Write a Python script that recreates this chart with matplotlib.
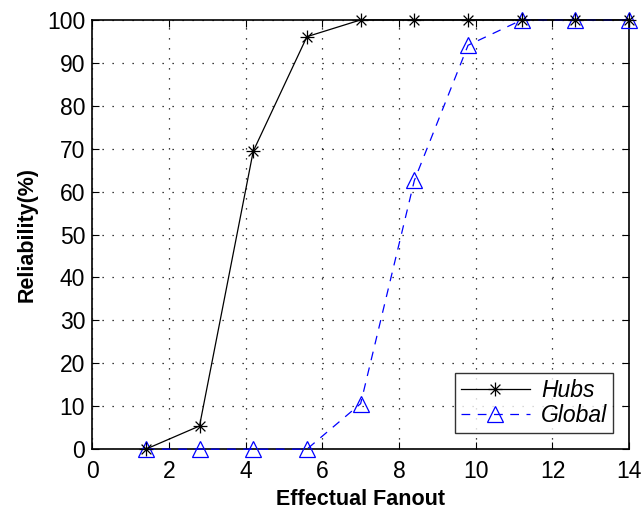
import numpy as np
import matplotlib
matplotlib.use("Agg")
import matplotlib.pyplot as plt
from matplotlib.path import Path

fanout = [1.4, 2.8, 4.2, 5.6, 7.0, 8.4, 9.8, 11.2, 12.6, 14.0]
hubs = [0, 5.4, 69.4, 96.1, 100, 100, 100, 100, 100, 100]
glob = [0, 0, 0, 0, 10.6, 62.6, 94.1, 100, 100, 100]

plt.rcParams['font.family'] = ['Liberation Sans', 'DejaVu Sans']

# matlab style asterisk: plus and cross overlaid
d = 0.7071
star = Path([(-1, 0), (1, 0), (0, -1), (0, 1), (-d, -d), (d, d), (-d, d), (d, -d)],
            [Path.MOVETO, Path.LINETO] * 4)

fig = plt.figure(figsize=(6.44, 5.11), dpi=100)
ax = fig.add_axes([0.143, 0.121, 0.834, 0.840])

ax.plot(fanout, hubs, color='black', lw=0.9, marker=star, ms=10,
        mec='black', mfc='none', mew=0.9, label='Hubs', clip_on=False, zorder=4)
ax.plot(fanout, glob, color='blue', lw=0.9, ls=(0, (7, 6)), marker='^', ms=11.5,
        mec='blue', mfc='none', mew=0.9, label='Global', clip_on=False, zorder=3)

ax.set_xlim(0, 14)
ax.set_ylim(0, 100)
ax.set_xticks(np.arange(0, 15, 2))
ax.set_yticks(np.arange(0, 101, 10))
ax.grid(True, color='black', ls=(0, (1, 7)), lw=0.9)
ax.tick_params(direction='in', top=True, right=True, labelsize=16.5, length=5, width=0.8)
ax.tick_params(axis='x', pad=8)
ax.tick_params(axis='y', pad=5)
for s in ax.spines.values():
    s.set_linewidth(1.2)

ax.set_xlabel('Effectual Fanout', fontsize=15.5, fontweight='bold', labelpad=4)
ax.set_ylabel('Reliability(%)', fontsize=15.5, fontweight='bold', labelpad=7)

leg = ax.legend(loc='lower right', prop={'style': 'italic', 'size': 16.5},
                handlelength=3.0, fancybox=False, edgecolor='black',
                borderaxespad=0.7, labelspacing=0.1, handletextpad=0.5,
                borderpad=0.25)
leg.get_frame().set_linewidth(1.0)

fig.savefig('out.png', dpi=100)
